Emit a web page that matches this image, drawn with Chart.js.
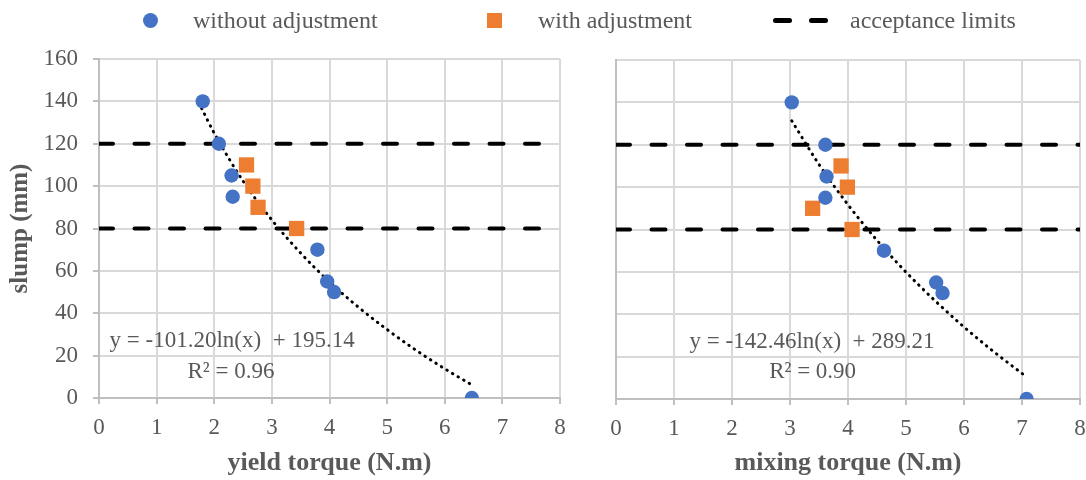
<!DOCTYPE html>
<html>
<head>
<meta charset="utf-8">
<script src="https://cdn.jsdelivr.net/npm/chart.js@4"></script>
<style>
  html, body { margin: 0; padding: 0; background: #ffffff; }
  #wrap { position: relative; width: 1086px; height: 480px; overflow: hidden; font-family: "Liberation Serif", "Times New Roman", serif; }
  .cv { position: absolute; top: 0; }
  .lg { position: absolute; top: 0; height: 40px; line-height: 40px; font-size: 24px; color: #595959; white-space: nowrap; }
  .mk { position: absolute; }
</style>
</head>
<body>
<div id="wrap">
  <canvas id="left" class="cv" width="580" height="480" style="left:0px"></canvas>
  <canvas id="right" class="cv" width="506" height="480" style="left:580px"></canvas>
  <div class="mk" style="left:143px; top:12.5px; width:15px; height:15px; border-radius:50%; background:#4472C4;"></div>
  <div class="lg" style="left:193px;">without adjustment</div>
  <div class="mk" style="left:487px; top:12.5px; width:15px; height:15px; background:#ED7D31;"></div>
  <div class="lg" style="left:538px;">with adjustment</div>
  <div class="mk" style="left:773px; top:17.5px; width:19px; height:5px; border-radius:2.5px; background:#000;"></div>
  <div class="mk" style="left:809px; top:17.5px; width:19px; height:5px; border-radius:2.5px; background:#000;"></div>
  <div class="lg" style="left:850px;">acceptance limits</div>
</div>
<script>
// ---- data ----
const slumpWithout = [140, 120, 105, 95, 70, 55, 50, 0];
const slumpWith = [110, 100, 90, 80];

const yieldWithout = [1.80, 2.08, 2.30, 2.32, 3.79, 3.96, 4.08, 6.47];
const yieldWith = [2.56, 2.67, 2.76, 3.43];

const mixingWithout = [3.03, 3.61, 3.63, 3.61, 4.62, 5.52, 5.63, 7.08];
const mixingWith = [3.88, 3.99, 3.39, 4.07];

// logarithmic trend lines
const yieldTrendX = [1.78, 2.0, 2.5, 3.0, 3.5, 4.0, 4.5, 5.0, 5.5, 6.0, 6.45];
const yieldTrendY = [136.8, 125.0, 102.4, 84.0, 68.4, 54.8, 42.9, 32.3, 22.6, 13.8, 6.5];
const mixingTrendX = [3.03, 3.5, 4.0, 4.5, 5.0, 5.5, 6.0, 6.5, 7.08];
const mixingTrendY = [131.3, 110.7, 91.7, 74.9, 59.9, 46.4, 34.0, 22.6, 10.4];

const limitUpper = 120;
const limitLower = 80;
const limitRangeX = [0, 8];

const xTicks = [0, 1, 2, 3, 4, 5, 6, 7, 8];
const yTicks = [0, 20, 40, 60, 80, 100, 120, 140, 160];

const leftEquation = ['y = -101.20ln(x)  + 195.14', 'R² = 0.96'];
const rightEquation = ['y = -142.46ln(x)  + 289.21', 'R² = 0.90'];

// ---- helpers ----
const pairs = (xs, ys) => xs.map((x, i) => ({ x: x, y: ys[i] }));
const GRAY = '#595959';
const GRID = '#d9d9d9';
const AXIS = '#bfbfbf';
const SERIF = '"Liberation Serif", "Times New Roman", serif';

const annotationPlugin = {
  id: 'eqText',
  afterDatasetsDraw(chart, args, opts) {
    const { ctx, scales } = chart;
    ctx.save();
    ctx.font = '23px ' + SERIF;
    ctx.fillStyle = GRAY;
    ctx.textAlign = 'center';
    ctx.textBaseline = 'middle';
    opts.lines.forEach((t, i) => {
      ctx.fillText(t, scales.x.getPixelForValue(opts.x[i]), scales.y.getPixelForValue(opts.y[i]));
    });
    ctx.restore();
  }
};

function makeChart(id, cfg) {
  const datasets = [
    {
      label: 'acceptance limits',
      data: pairs(limitRangeX, [limitUpper, limitUpper]),
      borderColor: '#000', borderWidth: 4, borderDash: [14, 21.5], borderCapStyle: 'round',
      pointRadius: 0, showLine: true, order: 5
    },
    {
      label: 'acceptance limits (lower)',
      data: pairs(limitRangeX, [limitLower, limitLower]),
      borderColor: '#000', borderWidth: 4, borderDash: [14, 21.5], borderCapStyle: 'round',
      pointRadius: 0, showLine: true, order: 5
    },
    {
      label: 'trend',
      data: pairs(cfg.trendX, cfg.trendY),
      borderColor: '#000', borderWidth: 3, borderDash: [0.5, 6], borderCapStyle: 'round',
      pointRadius: 0, showLine: true, cubicInterpolationMode: 'monotone', order: 3
    },
    {
      label: 'with adjustment',
      data: pairs(cfg.withX, slumpWith),
      pointStyle: 'rect', pointRadius: 10.8, pointHoverRadius: 10.8,
      backgroundColor: '#ED7D31', borderColor: '#ED7D31', borderWidth: 0, order: 2
    },
    {
      label: 'without adjustment',
      data: pairs(cfg.withoutX, slumpWithout),
      pointStyle: 'circle', pointRadius: 7.2, pointHoverRadius: 7.2,
      backgroundColor: '#4472C4', borderColor: '#4472C4', borderWidth: 0, order: 1
    }
  ];

  return new Chart(document.getElementById(id), {
    type: 'scatter',
    data: { datasets: datasets },
    plugins: [annotationPlugin],
    options: {
      responsive: false,
      animation: false,
      events: [],
      layout: { padding: cfg.padding, autoPadding: false },
      plugins: {
        legend: { display: false },
        tooltip: { enabled: false },
        eqText: cfg.eq
      },
      scales: {
        x: {
          type: 'linear', min: 0, max: 8,
          afterBuildTicks: (s) => { s.ticks = xTicks.map(v => ({ value: v })); },
          afterFit: (s) => { s.height = cfg.xHeight; s.paddingLeft = 0; s.paddingRight = 0; },
          ticks: { color: GRAY, font: { family: SERIF, size: 23 }, padding: 10 },
          grid: { color: GRID, lineWidth: 2, tickLength: 6, tickColor: AXIS, drawTicks: true },
          border: { color: AXIS, width: 2 },
          title: { display: true, text: cfg.xTitle, color: GRAY, font: { family: SERIF, size: 26, weight: 'bold' }, padding: { top: 0, bottom: 1 } }
        },
        y: {
          type: 'linear', min: 0, max: 160,
          afterBuildTicks: (s) => { s.ticks = yTicks.map(v => ({ value: v })); },
          afterFit: (s) => { s.width = cfg.yWidth; s.paddingTop = 0; s.paddingBottom = 0; },
          ticks: { display: cfg.yLabels, color: GRAY, font: { family: SERIF, size: 23 }, padding: 15 },
          grid: { color: GRID, lineWidth: 2, tickLength: 6, tickColor: AXIS, drawTicks: cfg.yLabels },
          border: { color: AXIS, width: 2 },
          title: { display: cfg.yLabels, text: 'slump (mm)', color: GRAY, font: { family: SERIF, size: 25, weight: 'bold' }, padding: { top: 6, bottom: 0 } }
        }
      }
    }
  });
}

makeChart('left', {
  withoutX: yieldWithout, withX: yieldWith,
  trendX: yieldTrendX, trendY: yieldTrendY,
  xTitle: 'yield torque (N.m)', yLabels: true,
  padding: { top: 59, right: 20, bottom: 0, left: 0 },
  xHeight: 82, yWidth: 99,
  eq: { lines: leftEquation, x: [2.31, 2.29], y: [26.8, 12.1] }
});

makeChart('right', {
  withoutX: mixingWithout, withX: mixingWith,
  trendX: mixingTrendX, trendY: mixingTrendY,
  xTitle: 'mixing torque (N.m)', yLabels: false,
  padding: { top: 60, right: 6, bottom: 0, left: 0 },
  xHeight: 81, yWidth: 36,
  eq: { lines: rightEquation, x: [3.38, 3.39], y: [27.0, 12.9] }
});
</script>
</body>
</html>
